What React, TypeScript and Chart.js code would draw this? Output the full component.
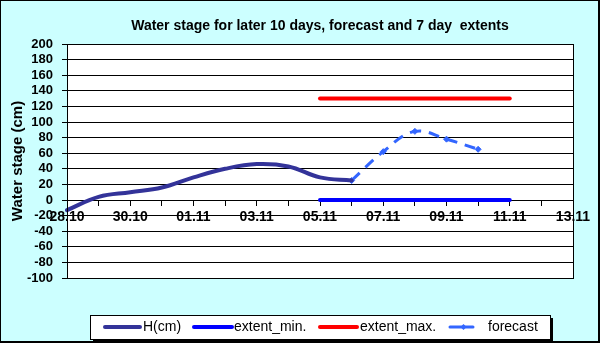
import React, { useEffect, useRef } from "react";
import { Chart, registerables } from "chart.js";

Chart.register(...registerables);

const dates = ["28.10", "29.10", "30.10", "31.10", "01.11", "02.11", "03.11", "04.11", "05.11", "06.11", "07.11", "08.11", "09.11", "10.11", "11.11", "12.11", "13.11"];
const hValues = [-13, 4, 10, 16, 29, 40, 46, 43, 29, 25, null, null, null, null, null, null, null];
const extentMin = [null, null, null, null, null, null, null, null, 0, 0, 0, 0, 0, 0, 0, null, null];
const extentMax = [null, null, null, null, null, null, null, null, 130, 130, 130, 130, 130, 130, 130, null, null];
const forecast = [null, null, null, null, null, null, null, null, null, 25, 62, 88, 78, 65, null, null, null];
const titleText = "Water stage for later 10 days, forecast and 7 day  extents";
const yTitle = "Water stage (cm)";

const FONT = "Arial, 'Liberation Sans', sans-serif";

const decor = {
  id: "decor",
  beforeDraw(chart: any) {
    const { ctx, width, height, chartArea } = chart;
    ctx.save();
    ctx.fillStyle = "#ccffff";
    ctx.fillRect(0, 0, width, height);
    ctx.fillStyle = "#ffffff";
    ctx.fillRect(chartArea.left, chartArea.top, chartArea.right - chartArea.left, chartArea.bottom - chartArea.top);
    ctx.restore();
  },
  afterDraw(chart: any) {
    const { ctx, width, height, chartArea } = chart;
    ctx.save();
    ctx.strokeStyle = "#000";
    ctx.lineWidth = 1;
    ctx.strokeRect(Math.round(chartArea.left) + 0.5, Math.round(chartArea.top) + 0.5, Math.round(chartArea.right - chartArea.left), Math.round(chartArea.bottom - chartArea.top));
    ctx.strokeRect(0.5, 0.5, width - 1, height - 1);
    ctx.fillStyle = "#000";
    ctx.fillRect(width - 2, 0, 2, height);
    ctx.fillRect(0, height - 2, width, 2);
    // title
    ctx.font = `bold 14px ${FONT}`;
    ctx.textAlign = "center";
    ctx.textBaseline = "middle";
    ctx.fillText(titleText, 320, 26);
    // y title
    ctx.save();
    ctx.translate(18, (chartArea.top + chartArea.bottom) / 2);
    ctx.rotate(-Math.PI / 2);
    ctx.font = `bold 15px ${FONT}`;
    ctx.fillText(yTitle, 0, 0);
    ctx.restore();
    // legend
    const lx = 90, ly = 315, lw = 460, lh = 24;
    ctx.fillStyle = "#000";
    ctx.fillRect(lx + 3, ly + 3, lw, lh);
    ctx.fillStyle = "#fff";
    ctx.fillRect(lx, ly, lw, lh);
    ctx.strokeStyle = "#000";
    ctx.lineWidth = 1;
    ctx.strokeRect(lx + 0.5, ly + 0.5, lw, lh);
    const cy = ly + 12;
    const items = [
      { x1: 105, x2: 140, tx: 143 },
      { x1: 194, x2: 232, tx: 234 },
      { x1: 320, x2: 357, tx: 360 },
      { x1: 450, x2: 473, tx: 488 },
    ];
    chart.data.datasets.forEach((ds: any, i: number) => {
      const it = items[i];
      ctx.strokeStyle = ds.borderColor;
      ctx.lineWidth = ds.borderWidth;
      ctx.lineCap = "round";
      ctx.beginPath();
      ctx.moveTo(it.x1, cy);
      ctx.lineTo(it.x2, cy);
      ctx.stroke();
      if (ds.pointRadius > 0) {
        const mx = (it.x1 + it.x2) / 2 + 2;
        ctx.fillStyle = ds.borderColor;
        ctx.beginPath();
        ctx.moveTo(mx, cy - 3);
        ctx.lineTo(mx + 3, cy);
        ctx.lineTo(mx, cy + 3);
        ctx.lineTo(mx - 3, cy);
        ctx.closePath();
        ctx.fill();
      }
      ctx.fillStyle = "#000";
      ctx.font = `14px ${FONT}`;
      ctx.textAlign = "left";
      ctx.textBaseline = "middle";
      ctx.fillText(ds.label, it.tx, cy);
    });
    ctx.restore();
  },
};

export default function App() {
  const ref = useRef<HTMLCanvasElement>(null);
  useEffect(() => {
    document.body.style.margin = "0";
    const chart = new Chart(ref.current!, {
      type: "line",
      data: {
        labels: dates,
        datasets: [
          { label: "H(cm)", data: hValues, borderColor: "#333399", backgroundColor: "#333399", borderWidth: 4, pointRadius: 0, tension: 0.4, borderCapStyle: "round" },
          { label: "extent_min.", data: extentMin, borderColor: "#0000ff", backgroundColor: "#0000ff", borderWidth: 4, pointRadius: 0, tension: 0, borderCapStyle: "round" },
          { label: "extent_max.", data: extentMax, borderColor: "#ff0000", backgroundColor: "#ff0000", borderWidth: 4, pointRadius: 0, tension: 0, borderCapStyle: "round" },
          { label: "forecast", data: forecast, borderColor: "#3366ff", backgroundColor: "#3366ff", borderWidth: 3, borderDash: [11, 8], pointRadius: 3, pointStyle: "rectRot", pointBorderWidth: 1, tension: 0.4 },
        ] as any,
      },
      plugins: [decor],
      options: {
        animation: false,
        responsive: false,
        layout: { padding: { top: 44, bottom: 65, left: 0, right: 27 } },
        plugins: { legend: { display: false }, title: { display: false }, tooltip: { enabled: false } },
        scales: {
          x: {
            position: { y: 0 } as any,
            offset: false,
            grid: { drawOnChartArea: false, drawTicks: true, tickLength: 5, color: "#000", lineWidth: 1 },
            border: { display: true, color: "#000", width: 1 },
            ticks: {
              autoSkip: false,
              maxRotation: 0,
              minRotation: 0,
              padding: 4,
              color: "#000",
              font: { family: FONT, size: 14, weight: "bold" },
              callback: (_v: any, i: number) => (i % 2 === 0 ? dates[i] : ""),
            },
          },
          y: {
            min: -100,
            max: 200,
            afterFit: (s: any) => { s.width = 67; },
            grid: { color: "#000", lineWidth: 1, tickLength: 5 },
            border: { display: true, color: "#000" },
            ticks: { stepSize: 20, autoSkip: false, color: "#000", padding: 9, font: { family: FONT, size: 13, weight: "bold" } },
          },
        },
      } as any,
    });
    return () => chart.destroy();
  }, []);
  return (
    <div style={{ position: "absolute", left: 0, top: 0, width: 600, height: 343 }}>
      <canvas ref={ref} width={600} height={343} />
    </div>
  );
}
